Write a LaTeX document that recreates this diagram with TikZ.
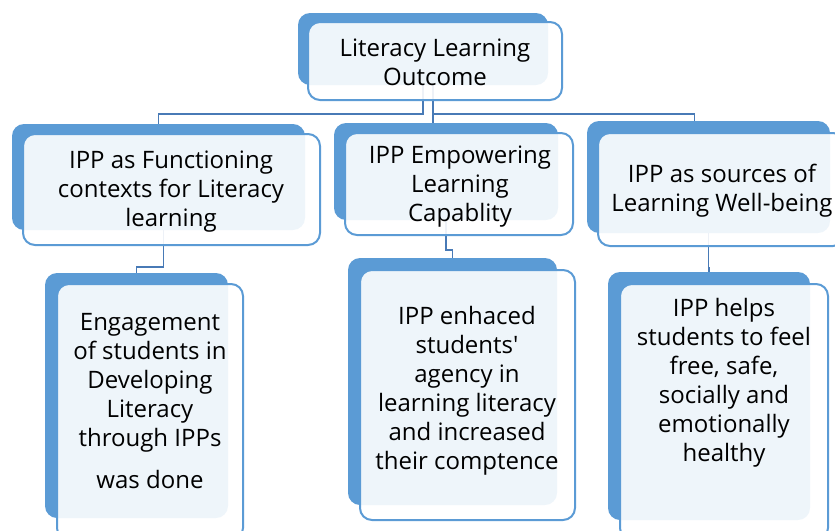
\documentclass[tikz,border=0pt]{standalone}
\usepackage{fontspec}
\setmainfont{Open Sans}[Ligatures=TeXOff]
\usetikzlibrary{positioning}
\definecolor{boxblue}{RGB}{91,155,213}
\definecolor{linkblue}{RGB}{72,122,182}
\tikzset{
  backbox/.style={fill=boxblue, rounded corners=12pt, inner sep=0pt},
  frontbox/.style={draw=boxblue, line width=2pt, fill=white, fill opacity=0.9, rounded corners=12pt, inner sep=0pt},
  boxtext/.style={align=center, inner sep=0pt, font=\fontsize{24}{29}\selectfont},
  link/.style={draw=linkblue, line width=1.5pt}
}

\begin{document}
\begin{tikzpicture}[x=1pt, y=-1pt]
    \clip (0,0) rectangle (835,530);
    \node[backbox, minimum width=250, minimum height=72] (tb) at (423,49) {};
    \node[backbox, minimum width=293, minimum height=106] (b1b) at (158.5,177) {};
    \node[backbox, minimum width=224, minimum height=97] (b2b) at (446,171.5) {};
    \node[backbox, minimum width=243, minimum height=112] (b3b) at (708.5,177) {};
    \node[backbox, minimum width=183, minimum height=245] (b4b) at (136.5,395.5) {};
    \node[backbox, minimum width=209, minimum height=247] (b5b) at (452.5,381.5) {};
    \node[backbox, minimum width=202, minimum height=248] (b6b) at (709,396) {};

    \draw[link] (tb.south) -- ++(0,29) -| (b1b.north);
    \draw[link] ([xshift=10]tb.south) -- ([xshift=10]tb.south |- b2b.north);
    \draw[link] ([xshift=10]tb.south) -- ++(0,29) -| ([xshift=-14]b3b.north);
    \draw[link] ([xshift=5]b1b.south) -- ++(0,37) -| (b4b.north);
    \draw[link] (b2b.south) -- ++(0,30) -| (b5b.north);
    \draw[link] (b3b.south) -- ++(0,35) -| (b6b.north);

    \node[frontbox, minimum width=254, minimum height=78] (tf) at (435,61) {};
    \node[frontbox, minimum width=297, minimum height=111] (b1f) at (171.5,189.5) {};
    \node[frontbox, minimum width=228, minimum height=102] (b2f) at (459,184) {};
    \node[frontbox, minimum width=247, minimum height=113] (b3f) at (721.5,189.5) {};
    \node[frontbox, minimum width=186, minimum height=256] (b4f) at (150,412) {};
    \node[frontbox, minimum width=215, minimum height=250] (b5f) at (467.5,395) {};
    \node[frontbox, minimum width=208, minimum height=256] (b6f) at (724,412) {};

    \node[boxtext] (tt) at (435,62) {Literacy Learning\\Outcome};
    \node[boxtext] (t1) at (171,191.5) {IPP as Functioning\\contexts for Literacy\\learning};
    \node[boxtext] (t2) at (460,186.5) {IPP Empowering\\Learning\\Capablity};
    \node[boxtext] (t3) at (722,190.5) {IPP as sources of\\Learning Well-being};
    \node[boxtext] (t4) at (150,401) {Engagement\\of students in\\Developing\\Literacy\\through IPPs\\[13pt]was done};
    \node[boxtext] (t5) at (467,390.5) {IPP enhaced\\students'\\agency in\\learning literacy\\and increased\\their comptence};
    \node[boxtext] (t6) at (724,383) {IPP helps\\students to feel\\free, safe,\\socially and\\emotionally\\healthy};
\end{tikzpicture}
\end{document}
